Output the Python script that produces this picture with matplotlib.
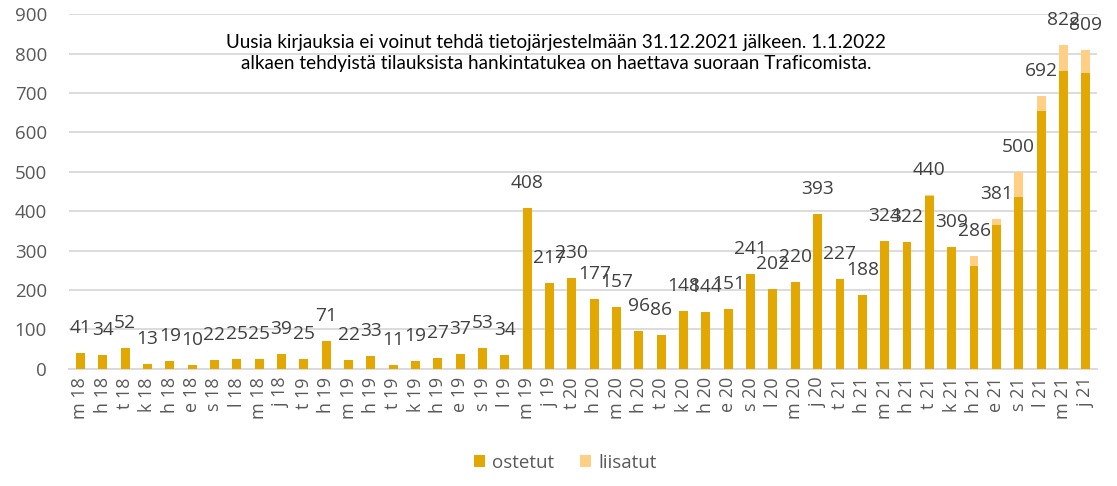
import matplotlib
matplotlib.use("Agg")
import matplotlib.pyplot as plt
import numpy as np

plt.rcParams['font.family'] = ['Open Sans', 'DejaVu Sans']

# kuukaudet maaliskuu 2018 - joulukuu 2021
months = ["m 18", "h 18", "t 18", "k 18", "h 18", "e 18", "s 18", "l 18", "m 18", "j 18",
          "t 19", "h 19", "m 19", "h 19", "t 19", "k 19", "h 19", "e 19", "s 19", "l 19", "m 19", "j 19",
          "t 20", "h 20", "m 20", "h 20", "t 20", "k 20", "h 20", "e 20", "s 20", "l 20", "m 20", "j 20",
          "t 21", "h 21", "m 21", "h 21", "t 21", "k 21", "h 21", "e 21", "s 21", "l 21", "m 21", "j 21"]

totals = [41, 34, 52, 13, 19, 10, 22, 25, 25, 39,
          25, 71, 22, 33, 11, 19, 27, 37, 53, 34, 408, 217,
          230, 177, 157, 96, 86, 148, 144, 151, 241, 202, 220, 393,
          227, 188, 324, 322, 440, 309, 286, 381, 500, 692, 822, 809]

liisatut = [0, 0, 0, 0, 0, 0, 0, 0, 0, 0,
            0, 0, 0, 0, 0, 0, 0, 0, 0, 0, 0, 0,
            0, 0, 0, 0, 0, 0, 0, 0, 0, 0, 0, 0,
            0, 0, 0, 0, 2, 0, 26, 16, 65, 38, 67, 59]

ostetut = [t - l for t, l in zip(totals, liisatut)]

note = ("Uusia kirjauksia ei voinut tehdä tietojärjestelmään 31.12.2021 jälkeen. 1.1.2022\n"
        "alkaen tehdyistä tilauksista hankintatukea on haettava suoraan Traficomista.")

c_ost = "#E2A700"
c_lii = "#FFCF85"
grey = "#595959"

fig = plt.figure(figsize=(11.17, 4.86), dpi=100)
ax = fig.add_axes([0.062, 0.241, 0.920, 0.730])

x = np.arange(len(months))
ax.bar(x, ostetut, width=0.4, color=c_ost, label="ostetut", zorder=3)
ax.bar(x, liisatut, width=0.4, bottom=ostetut, color=c_lii, label="liisatut", zorder=3)

for xi, t in zip(x, totals):
    ax.annotate(str(t), (xi, t), xytext=(0, 18), textcoords="offset points",
                ha="center", va="center", fontsize=13.8, color="#404040")

ax.set_ylim(0, 900)
ax.set_xlim(-0.5, len(months) - 0.5)
ax.set_yticks(range(0, 901, 100))
ax.grid(axis="y", color="#D9D9D9", linewidth=1.3, zorder=0)
ax.set_xticks(x)
ax.set_xticklabels(months, rotation=90, fontsize=13, color=grey)
ax.tick_params(axis="y", length=0, labelsize=13.5, labelcolor=grey, pad=16)
ax.tick_params(axis="x", length=0, pad=6)
for s in ["top", "right", "left"]:
    ax.spines[s].set_visible(False)
ax.spines["bottom"].set_color("#D9D9D9")
ax.spines["bottom"].set_linewidth(1.3)

ax.text(0.474, 0.89, note, transform=ax.transAxes, ha="center", va="center",
        fontsize=13.6, color="black", linespacing=1.3, family=["Lato", "DejaVu Sans"])

fig.legend(loc="lower center", bbox_to_anchor=(0.506, -0.005), ncol=2, frameon=False,
           fontsize=13.5, labelcolor=grey, handlelength=0.6, handleheight=0.6,
           handletextpad=0.35, columnspacing=1.4)

fig.savefig("out.png", dpi=100)
